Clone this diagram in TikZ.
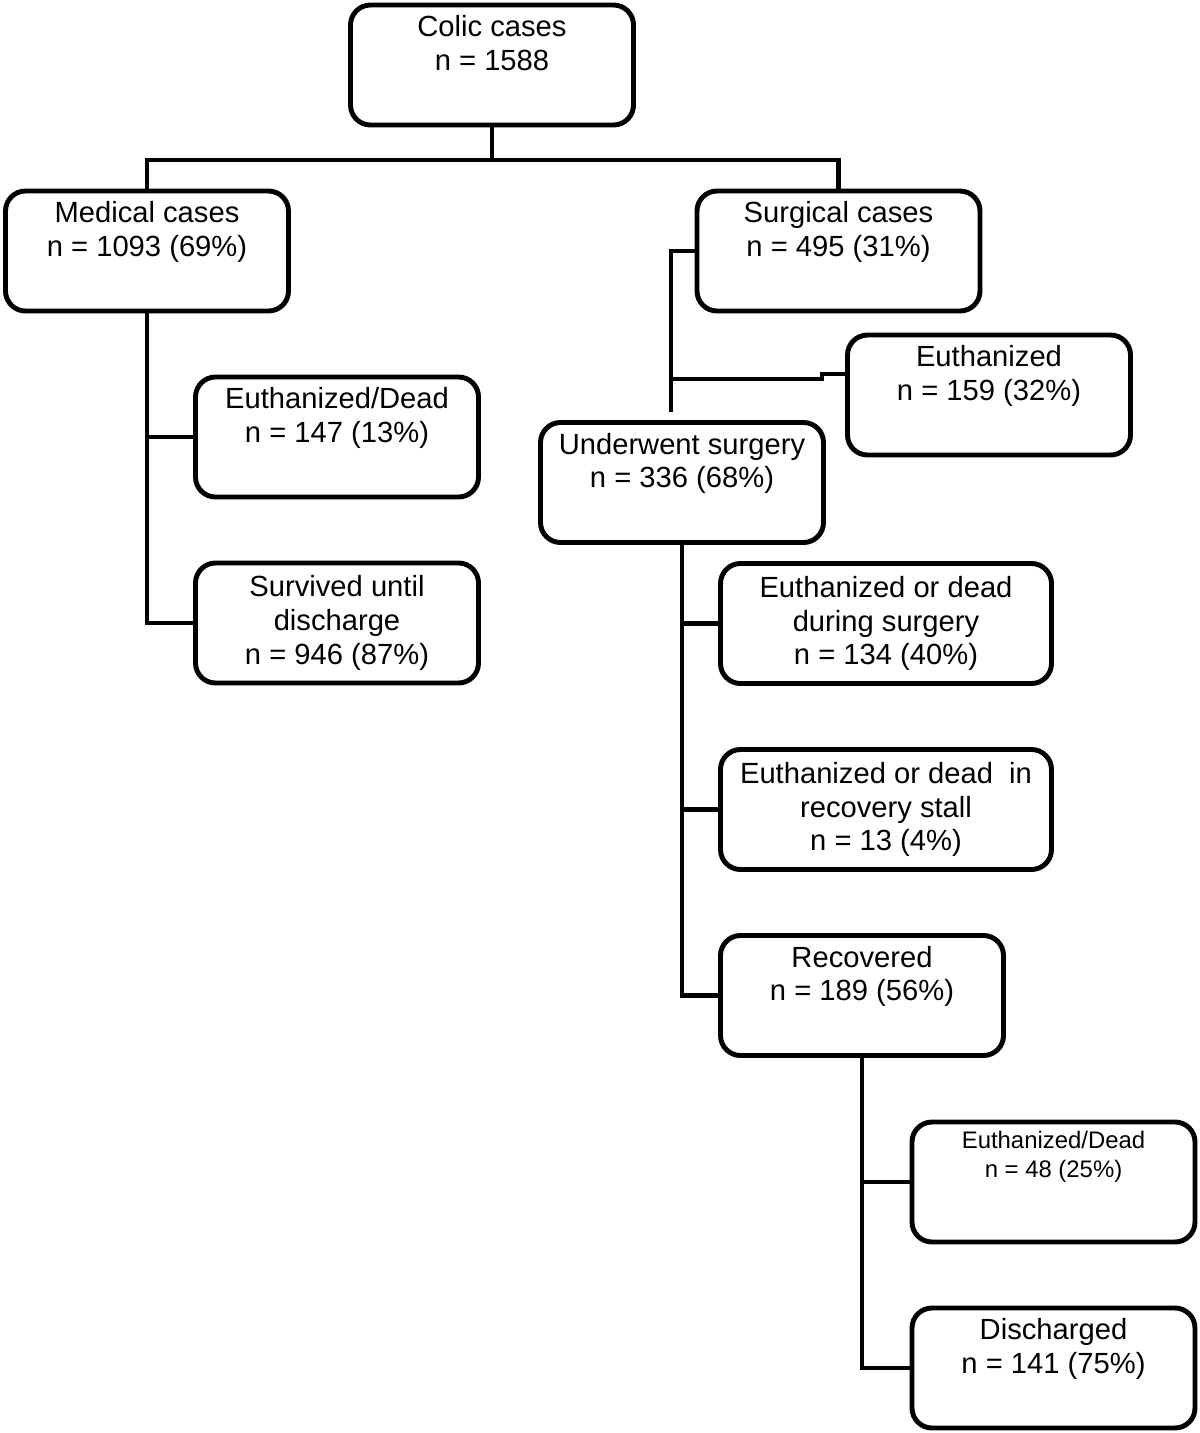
\documentclass[tikz,border=0pt]{standalone}
\usepackage{fontspec}
\setmainfont{Liberation Sans}

\begin{document}
\begin{tikzpicture}[node distance=3.72cm,line width=2.8pt,
	box/.style={draw,rounded corners=0.4cm,minimum width=5.66cm,minimum height=2.4cm,align=center,font=\fontsize{16.6}{19.3}\selectfont},
	widebox/.style={box,minimum width=6.62cm},
	smallbox/.style={box,font=\fontsize{13.6}{16.4}\selectfont}]

\useasboundingbox (0,0) rectangle (24,-28.66);

\node[box](colic) at (9.84,-1.3){Colic cases\\n = 1588\\\strut};
\node[box](medical)[below of=colic,xshift=-6.9cm]{Medical cases\\n = 1093 (69\%)\\\strut};
\node[box](surgical)[below of=colic,xshift=6.93cm]{Surgical cases\\n = 495 (31\%)\\\strut};
\node[box](dead147)[below of=medical,xshift=3.8cm]{Euthanized/Dead\\n = 147 (13\%)\\\strut};
\node[box](survived)[below of=dead147]{Survived until\\discharge\\n = 946 (87\%)};
\node[box](euth) at (19.78,-7.9){Euthanized\\n = 159 (32\%)\\\strut};
\node[box](underwent) at (13.64,-9.65){Underwent surgery\\n = 336 (68\%)\\\strut};
\node[widebox](during) at (17.72,-12.47){Euthanized or dead\\during surgery\\n = 134 (40\%)};
\node[widebox](stall)[below of=during]{Euthanized or dead\ \ in\\recovery stall\\n = 13 (4\%)};
\node[box](recovered)[below of=stall,xshift=-0.48cm]{Recovered\\n = 189 (56\%)\\\strut};
\node[smallbox](dead48) at (21.07,-23.64){Euthanized/Dead\\n = 48 (25\%)\\[10pt]\strut};
\node[box](discharged)[below of=dead48]{Discharged\\n = 141 (75\%)\\\strut};

% top split
\coordinate (split) at (9.84,-3.2);
\draw (colic) -- (split);
\draw (medical.north) |- (split) -| (surgical.north);

% medical branch
\draw (medical.south) |- (survived.west);
\draw (medical.south |- dead147.west) -- (dead147.west);

% surgical branch
\coordinate (sfoot) at (13.42,-8.24);
\coordinate (jog) at (16.44,-7.58);
\draw (surgical.west) -| (sfoot);
\draw (sfoot |- jog) -- (jog) |- ([yshift=0.42cm]euth.west);

% after surgery
\draw (underwent.south) |- (recovered.west);
\draw (underwent.south |- during.west) -- (during.west);
\draw (underwent.south |- stall.west) -- (stall.west);

% after recovery
\draw (recovered.south) |- (discharged.west);
\draw (recovered.south |- dead48.west) -- (dead48.west);

\end{tikzpicture}
\end{document}
